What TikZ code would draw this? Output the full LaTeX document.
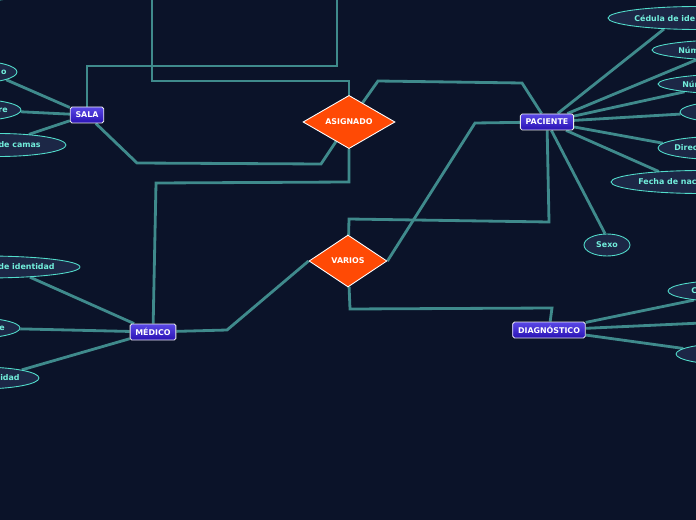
\documentclass[tikz,border=0pt]{standalone}
\usepackage{fontspec}
\newfontfamily\mmfont{DejaVu Sans}
\usetikzlibrary{shapes.geometric, backgrounds}

\definecolor{bgnavy}{HTML}{0B1329}
\definecolor{boxtop}{HTML}{5A48E6}
\definecolor{boxbot}{HTML}{2A12B4}
\definecolor{relorange}{HTML}{FF4A05}
\definecolor{attrfill}{HTML}{1C2746}
\definecolor{attrline}{HTML}{52DCCB}
\definecolor{attrink}{HTML}{72EEDC}
\definecolor{linkteal}{HTML}{3F8A8C}

\begin{document}
\begin{tikzpicture}[
    x=0.02cm, y=-0.02cm,
    every node/.style={font=\mmfont\fontsize{4.5}{5.5}\selectfont\bfseries},
    entity/.style={rectangle, rounded corners=1pt, draw=white!85!gray, line width=0.5pt,
      top color=boxtop, bottom color=boxbot, text=white, minimum height=0.32cm,
      inner xsep=3pt, inner ysep=0pt},
    rel/.style={diamond, fill=relorange, draw=white, line width=0.5pt, text=white, inner sep=0pt},
    attr/.style={ellipse, fill=attrfill, draw=attrline, line width=0.5pt, text=attrink, inner sep=0pt},
    attrlabel/.style={text=attrink, inner sep=0pt},
    link/.style={draw=linkteal, line width=1.6pt}
  ]
  \useasboundingbox (0,0) rectangle (696,520);
  \begin{scope}[on background layer]
    \fill[bgnavy] (0,0) rectangle (696,520);
  \end{scope}

  % --- Entities and relations ---
  \node[entity] (sala) at (87,115) {SALA};
  \node[entity] (paciente) at (547,122) {PACIENTE};
  \node[entity] (medico) at (153,332) {MÉDICO};
  \node[entity] (diagnostico) at (549,330) {DIAGNÓSTICO};
  \node[rel, minimum width=1.84cm, minimum height=0.96cm] (asignado) at (349,122) {ASIGNADO};
  \node[rel, minimum width=1.56cm, minimum height=1.04cm] (varios) at (348,261) {VARIOS};

  % --- Attributes of SALA ---
  \node[attr, minimum width=1.88cm, minimum height=0.44cm] (sa0) at (-20,-10) {};
  \node[attr, minimum width=1.68cm, minimum height=0.44cm] (sa1) at (-25,72) {};
  \node[attr, minimum width=2.04cm, minimum height=0.44cm] (sa2) at (-30,110) {};
  \node[attr, minimum width=2.72cm, minimum height=0.46cm] (sa3) at (-2,145) {};
  \node[attrlabel, anchor=east] (sa1t) at (7,72) {o};
  \node[attrlabel, anchor=east] (sa2t) at (8,110) {re};
  \node[attrlabel, anchor=east] (sa3t) at (41,145) {de camas};

  % --- Attributes of MÉDICO ---
  \node[attr, minimum width=3.76cm, minimum height=0.44cm] (me1) at (-14,267) {};
  \node[attr, minimum width=2.00cm, minimum height=0.42cm] (me2) at (-30,328) {};
  \node[attr, minimum width=2.36cm, minimum height=0.44cm] (me3) at (-20,378) {};
  \node[attrlabel, anchor=east] (me1t) at (55,267) {de identidad};
  \node[attrlabel, anchor=east] (me2t) at (5,328) {e};
  \node[attrlabel, anchor=east] (me3t) at (20,378) {idad};

  % --- Attributes of PACIENTE ---
  \node[attr, minimum width=3.60cm, minimum height=0.46cm] (pa1) at (698,18) {};
  \node[attr, minimum width=3.60cm, minimum height=0.42cm] (pa2) at (742,50) {};
  \node[attr, minimum width=3.60cm, minimum height=0.42cm] (pa3) at (748,84) {};
  \node[attr, minimum width=2.40cm, minimum height=0.46cm] (pa4) at (740,112) {};
  \node[attr, minimum width=2.40cm, minimum height=0.46cm] (pa5) at (718,148) {};
  \node[attr, minimum width=3.60cm, minimum height=0.46cm] (pa6) at (701,182) {};
  \node[attr, minimum width=0.92cm, minimum height=0.44cm] (sexo) at (607,245) {Sexo};
  \node[attrlabel, anchor=west] (pa1t) at (634,18) {Cédula de ide};
  \node[attrlabel, anchor=west] (pa2t) at (678,50) {Núm};
  \node[attrlabel, anchor=west] (pa3t) at (682,84) {Núm};
  \node[attrlabel, anchor=west] (pa5t) at (674,148) {Direc};
  \node[attrlabel, anchor=west] (pa6t) at (638,182) {Fecha de nac};

  % --- Attributes of DIAGNÓSTICO ---
  \node[attr, minimum width=2.40cm, minimum height=0.42cm] (di1) at (728,291) {};
  \node[attr, minimum width=2.40cm, minimum height=0.44cm] (di2) at (762,323) {};
  \node[attr, minimum width=2.40cm, minimum height=0.44cm] (di3) at (736,354) {};
  \node[attrlabel, anchor=west] (di1t) at (691,291) {C};

  % free ends above the picture
  \coordinate (up1) at (337,-10);
  \coordinate (up2) at (152,-10);

  % --- Connectors ---
  \begin{scope}[on background layer]
    % attributes
    \draw[link] (sala) -- (sa1.346);
    \draw[link] (sala) -- (sa2.358);
    \draw[link] (sala) -- (sa3.19);
    \draw[link] (medico) -- (me1.347);
    \draw[link] (medico) -- (me2.359);
    \draw[link] (medico) -- (me3.11);
    \draw[link] (paciente) -- (pa1.198);
    \draw[link] (paciente) -- (pa2.192);
    \draw[link] (paciente) -- (pa3.187);
    \draw[link] (paciente) -- (pa4.182);
    \draw[link] (paciente) -- (pa5.175);
    \draw[link] (paciente) -- (pa6.166);
    \draw[link] (paciente) -- (sexo.100);
    \draw[link] (diagnostico) -- (di1.195);
    \draw[link] (diagnostico) -- (di2.west);
    \draw[link] (diagnostico) -- (di3.174);
    % relations
    \draw[link] (sala) -- ++(0,-49) -| (up1);
    \draw[link] (asignado) -- ++(0,-41) -| (up2);
    \draw[link] (sala) -- (137,163) -- (321,164) -- (asignado);
    \draw[link] (asignado) -- (378,81) -- (522,83) -- (paciente);
    \draw[link] (asignado) -- (349,182) -- (156,183) -- (medico);
    \draw[link] (paciente) -- (475,123) -- (varios.east);
    \draw[link] (medico) -- (227,330) -- (varios.west);
    \draw[link] (varios) -- (349,219) -- (549,222) -- (paciente);
    \draw[link] (varios) -- (350,309) -- (552,308) -- (diagnostico);
  \end{scope}
\end{tikzpicture}
\end{document}
